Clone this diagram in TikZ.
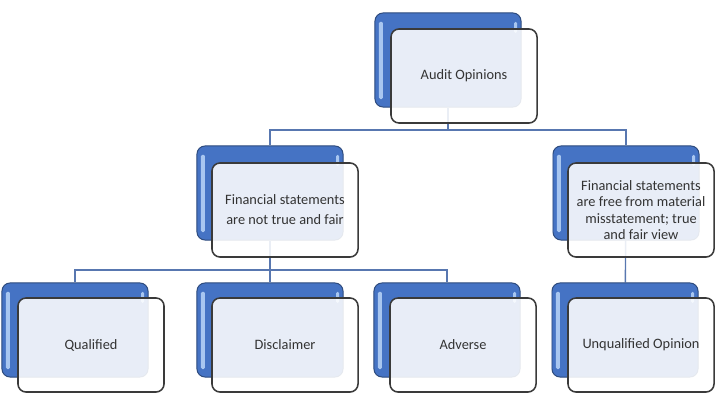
\documentclass[tikz,border=0pt]{standalone}
\usepackage{fontspec}
\setmainfont{Carlito}
\usepackage{xcolor}
\usetikzlibrary{positioning,backgrounds}
\definecolor{boxblue}{HTML}{4573C4}
\definecolor{boxedge}{HTML}{2D4A7C}
\definecolor{shine}{HTML}{A8C6F0}
\definecolor{linkblue}{HTML}{5877B0}
\definecolor{inkgray}{HTML}{333333}
\definecolor{cardedge}{HTML}{3A3A3A}
\tikzset{
  back/.style={draw=boxedge,fill=boxblue,rounded corners=0.2cm,minimum width=3.65cm,minimum height=2.35cm,line width=0.7pt,
    path picture={
      \fill[shine,rounded corners=1pt] ([xshift=0.1cm,yshift=-0.22cm]path picture bounding box.north west) rectangle ([xshift=0.2cm,yshift=0.2cm]path picture bounding box.south west);
      \fill[shine,rounded corners=1pt] ([xshift=-0.17cm,yshift=-0.22cm]path picture bounding box.north east) rectangle ([xshift=-0.1cm,yshift=-0.5cm]path picture bounding box.north east);}},
  front/.style={draw=cardedge,fill=white,fill opacity=0.88,text opacity=1,rounded corners=0.2cm,minimum width=3.65cm,minimum height=2.35cm,line width=1.1pt,text=inkgray,align=center,font=\fontsize{10.2}{11.6}\selectfont},
  link/.style={draw=linkblue,line width=1pt}
}

\begin{document}
\begin{tikzpicture}[x=0.025cm,y=-0.025cm]
\useasboundingbox (0,0) rectangle (720,406);
% top
\node[back] (op) at (448,60) {};
\node[front] (opT) at ([shift={(16,16)}]op) {Audit Opinions};
% second row
\node[back] (nf) at (270,193) {};
\node[front] (nfT) at ([shift={(15,17)}]nf) {Financial statements\\[2.7pt]are not true and fair};
\node[back] (tf) at (626,193) {};
\node[front] (tfT) at ([shift={(15,17)}]tf) {Financial statements\\are free from material\\misstatement; true\\and fair view};
% third row
\node[back] (ql) at (75,330) {};
\node[front] (qlT) at ([shift={(16,15)}]ql) {Qualified};
\node[back] (dc) at (270,330) {};
\node[front] (dcT) at ([shift={(15,15)}]dc) {Disclaimer};
\node[back] (ad) at (447,330) {};
\node[front] (adT) at ([shift={(16,15)}]ad) {Adverse};
\node[back] (uq) at (625,330) {};
\node[front] (uqT) at ([shift={(16,15)}]uq) {Unqualified Opinion};
% connectors
\coordinate (j1) at (448,130);
\coordinate (j2) at (270,270);
\begin{scope}[on background layer]
\draw[link] (op) -- (j1);
\draw[link] (j1) -| (nf);
\draw[link] (j1) -| (tf);
\draw[link] (nf) -- (j2) -| (ql);
\draw[link] (j2) -| (ad);
\draw[link] (j2) -- (dc);
\draw[link] (tf) -- (uq);
\end{scope}
\end{tikzpicture}
\end{document}
